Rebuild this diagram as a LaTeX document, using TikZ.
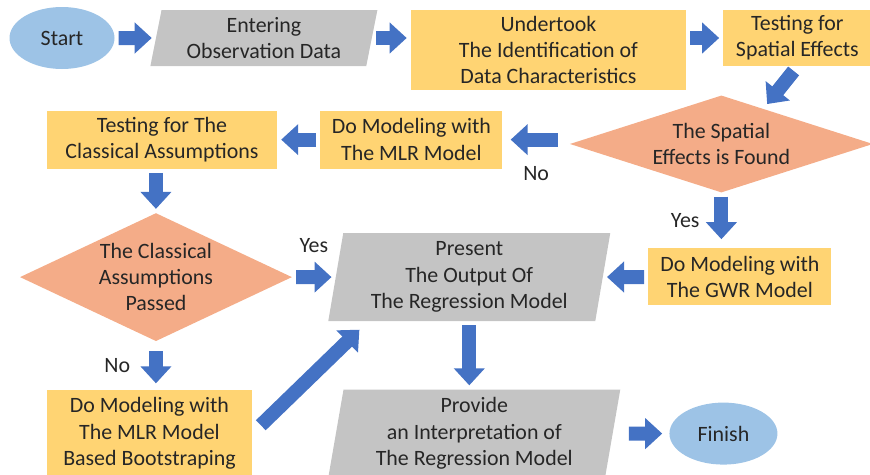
\documentclass[tikz,border=0pt]{standalone}
\usepackage{fontspec}
\setmainfont{Carlito}
\usetikzlibrary{positioning,shapes,arrows.meta}

\definecolor{termblue}{RGB}{157,195,230}
\definecolor{iogray}{RGB}{196,196,196}
\definecolor{procgold}{RGB}{255,212,115}
\definecolor{decsalmon}{RGB}{244,172,136}
\definecolor{flowblue}{RGB}{68,114,196}

\begin{document}
\begin{tikzpicture}[
	node distance=1cm and 1cm,
	font=\fontsize{18.7}{22.5}\selectfont,
	text=black!85,
	termnode/.style={ellipse, fill=termblue, inner sep=0pt, minimum width=3.15cm, minimum height=1.86cm},
	ionode/.style={trapezium, trapezium left angle=75, trapezium right angle=105, trapezium stretches body, fill=iogray, inner sep=0pt, minimum height=1.68cm, align=center},
	procnode/.style={rectangle, fill=procgold, inner sep=0pt, align=center},
	decnode/.style={diamond, fill=decsalmon, inner sep=0pt, align=center},
	blkarrow/.style={draw=flowblue, line width=0.42cm, -{Triangle[width=0.9cm,length=0.51cm]}, shorten <=0.12cm, shorten >=0.12cm}
	]
	
	\useasboundingbox (0,0) rectangle (26.1,-14.22);
	
	\node[termnode] (start) at (1.86,-1.14) {Start};
	\node[ionode, minimum width=6.81cm, right=1.23cm of start] (enter) {Entering\\Observation Data};
	\node[procnode, minimum width=8.25cm, minimum height=2.4cm, right=0.99cm of enter.top right corner, anchor=north west] (ident) {Undertook\\The Identification of\\Data Characteristics};
	\node[procnode, minimum width=4.44cm, minimum height=1.68cm, right=1.11cm of ident.north east, anchor=north west] (spattest) {Testing for\\Spatial Effects};
	
	\node[decnode, shape aspect=3, minimum width=9.09cm, minimum height=2.91cm, below=0.87cm of spattest, xshift=-2.28cm] (spatial) {The Spatial\\Effects is Found};
	\node[procnode, minimum width=5.46cm, minimum height=1.74cm, left=2.01cm of spatial, yshift=0.13cm] (mlr) {Do Modeling with\\The MLR Model};
	\node[procnode, minimum width=6.9cm, minimum height=1.74cm, left=1.29cm of mlr] (classtest) {Testing for The\\Classical Assumptions};
	
	\node[decnode, shape aspect=2.15, minimum width=8.16cm, minimum height=3.84cm, below=1.32cm of classtest, xshift=-0.18cm] (classical) {The Classical\\Assumptions\\Passed};
	\node[ionode, trapezium left angle=78, trapezium right angle=102, minimum width=8.46cm, minimum height=2.64cm, right=1.3cm of classical] (present) {Present\\The Output Of\\The Regression Model};
	\node[procnode, minimum width=5.49cm, minimum height=1.71cm, below=1.665cm of spatial, xshift=0.555cm] (gwr) {Do Modeling with\\The GWR Model};
	
	\node[procnode, minimum width=6.15cm, minimum height=2.64cm, below=1.44cm of classical, xshift=-0.195cm] (boot) {Do Modeling with\\The MLR Model\\Based Bootstraping};
	\node[ionode, trapezium left angle=78, trapezium right angle=102, minimum width=8.76cm, minimum height=2.64cm, below=2.04cm of present, xshift=0.15cm] (provide) {Provide\\an Interpretation of\\The Regression Model};
	\node[termnode, minimum width=3.24cm, right=1.69cm of provide] (finish) {Finish};
	
	
	\path (start) edge[blkarrow] (enter)
	(enter.east) edge[blkarrow] (enter.east -| ident.west)
	(ident.east |- spattest) edge[blkarrow] (spattest)
	(spattest.south) edge[blkarrow, shorten <=0.18cm, shorten >=0.18cm] (spatial.40)
	(spatial.west |- mlr) edge[blkarrow, shorten <=0.36cm, shorten >=0.24cm] node[below=0.47cm] {No} (mlr)
	(mlr) edge[blkarrow] (classtest)
	(classtest.south -| classical) edge[blkarrow] (classical)
	(spatial) edge[blkarrow, shorten >=0.27cm] node[left=0.33cm] {Yes} (spatial |- gwr.north)
	(gwr) edge[blkarrow] (present)
	(classical) edge[blkarrow] node[above=0.42cm] {Yes} (present)
	(classical.south) edge[blkarrow, shorten <=0.3cm, shorten >=0.18cm] node[left=0.45cm] {No} (classical.south |- boot.north)
	(boot.east) edge[blkarrow, shorten <=0.36cm, shorten >=0.36cm] ([xshift=1.2cm]present.bottom left corner)
	(present.south) edge[blkarrow] (present.south |- provide.north)
	(provide) edge[blkarrow, shorten <=0.48cm, shorten >=0.21cm] (finish);
	
\end{tikzpicture}
\end{document}
